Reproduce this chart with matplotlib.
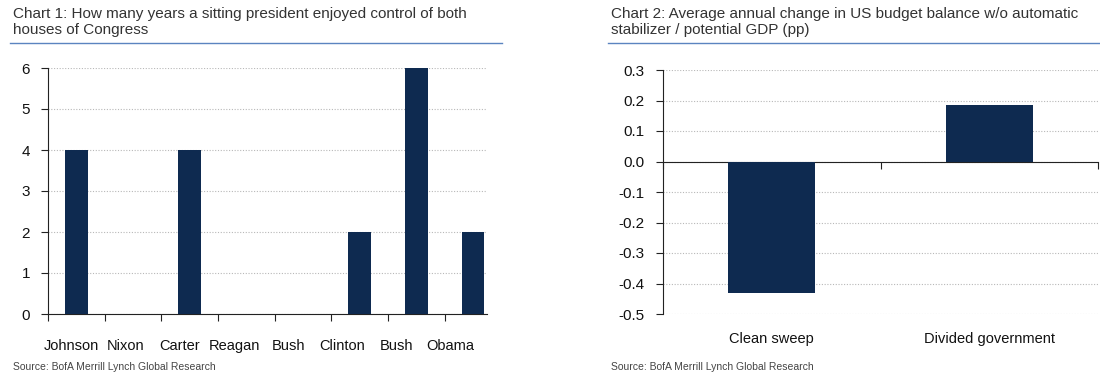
import matplotlib
matplotlib.use('Agg')
import matplotlib.pyplot as plt
from matplotlib.lines import Line2D

presidents = ['Johnson', 'Nixon', 'Carter', 'Reagan', 'Bush', 'Clinton', 'Bush', 'Obama']
years_control = [4, 0, 4, 0, 0, 2, 6, 2]

regimes = ['Clean sweep', 'Divided government']
budget_change = [-0.43, 0.185]

navy = '#0e2a50'
grid_col = '#b8b8b8'
plt.rcParams['font.family'] = ['Liberation Sans', 'DejaVu Sans']

fig = plt.figure(figsize=(11, 3.9), dpi=100)

# titles + blue rule
fig.text(13/1100, 1-7/390, 'Chart 1: How many years a sitting president enjoyed control of both\nhouses of Congress',
         ha='left', va='top', fontsize=11, color='#333333', linespacing=1.15)
fig.text(611/1100, 1-7/390, 'Chart 2: Average annual change in US budget balance w/o automatic\nstabilizer / potential GDP (pp)',
         ha='left', va='top', fontsize=11, color='#333333', linespacing=1.15)
fig.add_artist(Line2D([10/1100, 502/1100], [1-43/390]*2, color='#5b84c0', lw=1.0))
fig.add_artist(Line2D([608/1100, 1.0], [1-43/390]*2, color='#5b84c0', lw=1.0))

# sources
fig.text(13/1100, 1-367/390, 'Source: BofA Merrill Lynch Global Research', ha='left', va='center',
         fontsize=7.5, color='#444444')
fig.text(611/1100, 1-367/390, 'Source: BofA Merrill Lynch Global Research', ha='left', va='center',
         fontsize=7.5, color='#444444')

# chart 1 (last category is clipped at the right edge, like the original)
ax1 = fig.add_axes([48/1100, 1-314/390, (487-48)/1100, (314-68)/390])
x1 = list(range(len(presidents)))
ax1.bar(x1, years_control, width=0.4, color=navy, zorder=3)
ax1.set_xlim(-0.5, len(presidents)-0.75)
ax1.set_ylim(0, 6)
ax1.set_yticks(range(0, 7))
ax1.yaxis.grid(True, linestyle=(0, (1, 1.5)), color=grid_col, lw=0.8, zorder=0)
for s in ['top', 'right']:
    ax1.spines[s].set_visible(False)
ax1.spines['left'].set_color('#222222')
ax1.spines['bottom'].set_color('#222222')
ax1.set_xticks([i - 0.5 for i in range(len(presidents))])
ax1.set_xticklabels([])
ax1.tick_params(axis='x', length=5, color='#222222')
ax1.tick_params(axis='y', length=5, color='#222222', labelsize=11, pad=8)
# category labels are spaced a little tighter than the bars
for i, name in enumerate(presidents):
    ax1.text(-0.08 + i*0.955, -0.6, name, ha='center', va='top', fontsize=10.5, color='#111111')
for lab in ax1.get_yticklabels():
    lab.set_color('#111111')

# chart 2
ax2 = fig.add_axes([663/1100, 1-314/390, (1098-663)/1100, (314-70)/390])
x2 = list(range(len(regimes)))
ax2.bar(x2, budget_change, width=0.4, color=navy, zorder=3)
ax2.set_xlim(-0.5, len(regimes)-0.5)
ax2.set_ylim(-0.5, 0.3)
yt2 = [0.3, 0.2, 0.1, 0.0, -0.1, -0.2, -0.3, -0.4, -0.5]
ax2.set_yticks(yt2)
ax2.set_yticklabels(['%.1f' % v for v in yt2])
ax2.yaxis.grid(True, linestyle=(0, (1, 1.5)), color=grid_col, lw=0.8, zorder=0)
for s in ['top', 'right']:
    ax2.spines[s].set_visible(False)
ax2.spines['bottom'].set_position(('data', 0))
ax2.spines['left'].set_color('#222222')
ax2.spines['bottom'].set_color('#222222')
ax2.set_xticks([-0.5, 0.5, 1.5])
ax2.set_xticklabels([])
ax2.tick_params(axis='x', length=5, color='#222222')
ax2.tick_params(axis='y', length=5, color='#222222', labelsize=11, pad=8)
for i, name in enumerate(regimes):
    ax2.text(i, -0.56, name, ha='center', va='top', fontsize=10.5, color='#111111')
for lab in ax2.get_yticklabels():
    lab.set_color('#111111')

fig.savefig('out.png', dpi=100)
